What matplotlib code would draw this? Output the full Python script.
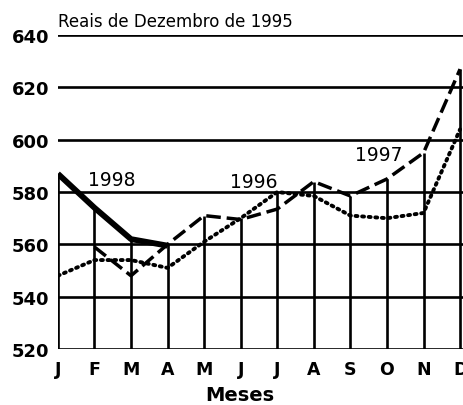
import numpy as np
import matplotlib.pyplot as plt

# data (reais de dezembro de 1995)
months = ['J', 'F', 'M', 'A', 'M', 'J', 'J', 'A', 'S', 'O', 'N', 'D']
y1996 = [548, 554, 554, 551, 561, 570, 580, 578.5, 571, 570, 572, 604]
y1997 = [np.nan, 559, 548, 560, 571, 569.5, 573.5, 584, 578.5, 585, 595, 627]
y1998 = [587, 574, 562, 559.5]
yticks = [520, 540, 560, 580, 600, 620, 640]

x = np.arange(len(months))

fig = plt.figure(figsize=(4.63, 4.06), dpi=100)
ax = fig.add_axes([0.125, 0.138, 0.875, 0.773])
ax.set_xlim(0, 11.08)
ax.set_ylim(520, 640)

# horizontal grid
for v in yticks:
    ax.axhline(v, color='black', lw=1.9, zorder=1)

# vertical lines go up to the highest curve at each month
tops = np.nanmax(np.vstack([y1996, y1997, y1998 + [np.nan] * 8]), axis=0)
ax.vlines(x, 520, tops, color='black', lw=1.9, zorder=1)

ax.plot(x, y1996, color='black', lw=2.8, linestyle=(0, (0.5, 1.2)),
        dash_capstyle='round', zorder=3)
ax.plot(x, y1997, color='black', lw=2.5, linestyle=(0, (4.2, 1.7)), zorder=3)
ax.plot(x[:4], y1998, color='black', lw=4.2, solid_capstyle='butt', zorder=4)

ax.text(1.48, 584.7, '1998', fontsize=13.5, ha='center', va='center')
ax.text(5.37, 584.0, '1996', fontsize=13.5, ha='center', va='center')
ax.text(8.77, 594.5, '1997', fontsize=13.5, ha='center', va='center')

for s in ax.spines.values():
    s.set_visible(False)
ax.set_yticks(yticks)
ax.set_yticklabels([str(v) for v in yticks], fontsize=13, fontweight='semibold')
ax.set_xticks(x)
ax.set_xticklabels(months, fontsize=12.5, fontweight='bold')
ax.tick_params(length=0, pad=6)
ax.tick_params(axis='x', pad=8)

fig.text(0.125, 0.945, 'Reais de Dezembro de 1995', fontsize=12, fontweight='medium',
         ha='left', va='center')
fig.text(0.518, 0.027, 'Meses', fontsize=14, fontweight='bold', ha='center', va='center')

fig.savefig('out.png', dpi=100)
